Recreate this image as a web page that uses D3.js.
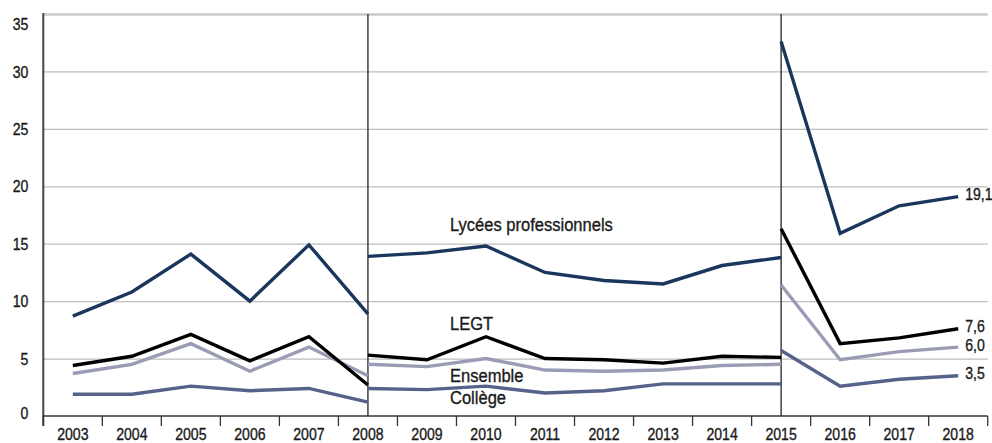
<!DOCTYPE html>
<meta charset="utf-8">
<script src="https://d3js.org/d3.v7.min.js"></script>
<style>
body { margin: 0; background: #fff; }
svg { display: block; font-family: "Liberation Sans", Arial, sans-serif; }
text { transform-box: fill-box; stroke: #1a1a1a; stroke-width: 0.35px; }
.grid line { stroke: #bdbdbd; stroke-width: 1.3px; }
.grid path { display: none; }
.axis path { display: none; }
.axis text { font-size: 16px; fill: #1a1a1a; transform: scaleX(0.88); }
.x.axis text { transform-origin: center; }
.y.axis text { transform-origin: right; }
.lbl { font-size: 19px; fill: #1a1a1a; transform: scaleX(0.87); transform-origin: left; }
.endlbl { font-size: 16px; fill: #1a1a1a; transform: scaleX(0.88); transform-origin: left; }
</style>
<body></body>
<script>
// years on the x axis
var years = ["2003","2004","2005","2006","2007","2008","2009","2010","2011","2012","2013","2014","2015","2016","2017","2018"];
var yTicks = [0, 5, 10, 15, 20, 25, 30, 35];

// three periods, the series break at 2008 and 2015
var period1 = ["2003","2004","2005","2006","2007","2008"];
var period2 = ["2008","2009","2010","2011","2012","2013","2014","2015"];
var period3 = ["2015","2016","2017","2018"];
var breaks = ["2008", "2015"];

var lyceesPro1 = [8.7, 10.8, 14.1, 10.0, 14.9, 8.9];
var lyceesPro2 = [13.9, 14.2, 14.8, 12.5, 11.8, 11.5, 13.1, 13.8];
var lyceesPro3 = [32.6, 15.9, 18.3, 19.1];

var legt1 = [4.4, 5.2, 7.1, 4.8, 6.9, 2.7];
var legt2 = [5.3, 4.9, 6.9, 5.0, 4.9, 4.6, 5.2, 5.1];
var legt3 = [16.3, 6.3, 6.8, 7.6];

var ensemble1 = [3.7, 4.5, 6.3, 3.9, 6.0, 3.5];
var ensemble2 = [4.5, 4.3, 5.0, 4.0, 3.9, 4.0, 4.4, 4.5];
var ensemble3 = [11.4, 4.9, 5.6, 6.0];

var college1 = [1.9, 1.9, 2.6, 2.2, 2.4, 1.2];
var college2 = [2.4, 2.3, 2.6, 2.0, 2.2, 2.8, 2.8, 2.8];
var college3 = [5.7, 2.6, 3.2, 3.5];

var series = [
  {name: "Ensemble", color: "#9a9cb6", segs: [ensemble1, ensemble2, ensemble3], end: "6,0"},
  {name: "Collège", color: "#56628a", segs: [college1, college2, college3], end: "3,5"},
  {name: "LEGT", color: "#000000", segs: [legt1, legt2, legt3], end: "7,6"},
  {name: "Lycées professionnels", color: "#1b365d", segs: [lyceesPro1, lyceesPro2, lyceesPro3], end: "19,1"}
];
var periods = [period1, period2, period3];

var W = 992, H = 443;
var plotL = 43.3, plotR = 987.7, plotT = 14, plotB = 416;

var svg = d3.select("body").append("svg").attr("width", W).attr("height", H);

var x = d3.scaleBand().domain(years).range([plotL, plotR]).padding(0);
var y = d3.scaleLinear().domain([0, 35]).range([plotB, plotT]);
function cx(d) { return x(d) + x.bandwidth() / 2; }

// gridlines
svg.append("g").attr("class", "grid")
  .attr("transform", "translate(" + plotL + ",0)")
  .call(d3.axisLeft(y).tickValues(yTicks.slice(1)).tickSize(-(plotR - plotL)).tickFormat(""))
  .selectAll("line")
  .style("stroke", function(d) { return d === 35 ? "#cacaca" : null; })
  .style("stroke-width", function(d) { return d === 35 ? "2.5px" : null; });

// y labels
var yAx = svg.append("g").attr("class", "y axis")
  .attr("transform", "translate(" + plotL + ",0)")
  .call(d3.axisLeft(y).tickValues(yTicks).tickSize(0).tickPadding(15));
yAx.selectAll("text").attr("dy", function(d) { return d === 35 ? "0.95em" : d === 0 ? "0.15em" : "0.35em"; });

// break lines
svg.selectAll(".brk").data(breaks).enter().append("line")
  .attr("x1", cx).attr("x2", cx)
  .attr("y1", plotT).attr("y2", plotB)
  .style("stroke", "#222").style("stroke-width", 1.3);

// series lines
var line = d3.line().x(function(d) { return cx(d.year); }).y(function(d) { return y(d.v); });
series.forEach(function(s) {
  s.segs.forEach(function(vals, i) {
    var pts = periods[i].map(function(yr, j) { return {year: yr, v: vals[j]}; });
    svg.append("path").datum(pts)
      .attr("d", line)
      .style("fill", "none")
      .style("stroke", s.color)
      .style("stroke-width", 3.4)
      .style("stroke-linejoin", "miter");
  });
});

// axis lines
svg.append("line").attr("x1", plotL).attr("x2", plotL).attr("y1", plotT - 1).attr("y2", plotB + 10)
  .style("stroke", "#444").style("stroke-width", 2);
svg.append("line").attr("x1", plotL).attr("x2", plotR).attr("y1", plotB).attr("y2", plotB)
  .style("stroke", "#333").style("stroke-width", 1.5);
svg.selectAll(".xtick").data(years.concat(["end"])).enter().append("line")
  .attr("x1", function(d) { return d === "end" ? plotR : x(d); })
  .attr("x2", function(d) { return d === "end" ? plotR : x(d); })
  .attr("y1", plotB).attr("y2", plotB + 10)
  .style("stroke", "#333").style("stroke-width", 1.3);

// x labels
svg.append("g").attr("class", "x axis")
  .attr("transform", "translate(0," + plotB + ")")
  .call(d3.axisBottom(x).tickSize(0).tickPadding(13));

// series names
var names = [
  {t: "Lycées professionnels", yr: "2010", v: 16.1},
  {t: "LEGT", yr: "2010", v: 7.5},
  {t: "Ensemble", yr: "2010", v: 3.0},
  {t: "Collège", yr: "2010", v: 1.05}
];
svg.selectAll(".lbl").data(names).enter().append("text")
  .attr("class", "lbl")
  .attr("x", function(d) { return cx(d.yr) - 36; })
  .attr("y", function(d) { return y(d.v); })
  .text(function(d) { return d.t; });

// end values
svg.selectAll(".endlbl").data(series).enter().append("text")
  .attr("class", "endlbl")
  .attr("x", cx("2018") + 7)
  .attr("y", function(s) { return y(s.segs[2][3]); })
  .attr("dy", "0.22em")
  .text(function(s) { return s.end; });
</script>
